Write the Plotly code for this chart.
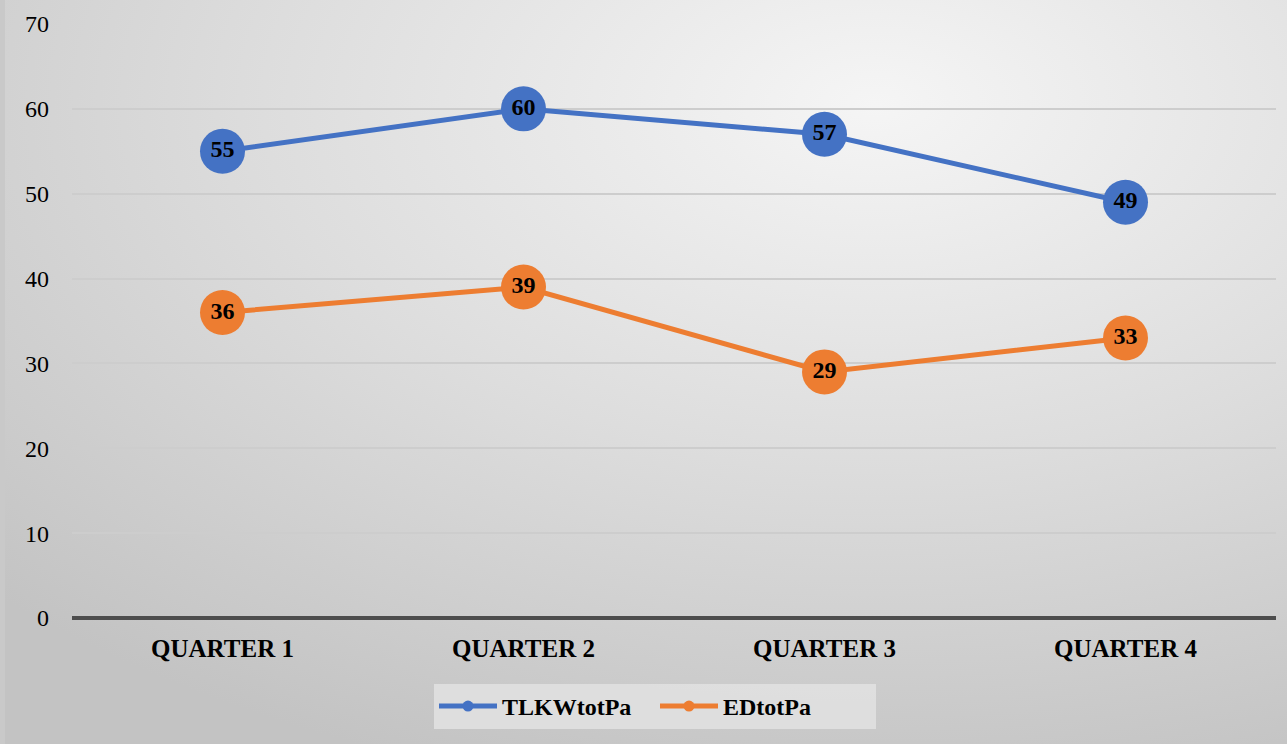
import base64
import plotly.graph_objects as go

quarters = ["QUARTER 1", "QUARTER 2", "QUARTER 3", "QUARTER 4"]
tlkw_tot_pa = [55, 60, 57, 49]
ed_tot_pa = [36, 39, 29, 33]
y_ticks = [0, 10, 20, 30, 40, 50, 60, 70]

BLUE = "#4472C4"
ORANGE = "#ED7D31"
FONT = "Liberation Serif"

W, H = 1287, 744
M_L, M_R, M_T, M_B = 72, 11, 24, 126
plot_w = W - M_L - M_R
plot_h = H - M_T - M_B

# radial grey gradient for the chart background
svg = (
    '<svg xmlns="http://www.w3.org/2000/svg" width="1287" height="744" '
    'preserveAspectRatio="none" viewBox="0 0 1287 744">'
    '<defs><radialGradient id="g" cx="0.68" cy="0.14" r="0.95" fx="0.68" fy="0.14">'
    '<stop offset="0" stop-color="#f5f5f5"/>'
    '<stop offset="0.5" stop-color="#dddddd"/>'
    '<stop offset="1" stop-color="#c3c3c3"/>'
    '</radialGradient></defs>'
    '<rect x="0" y="0" width="1287" height="744" fill="url(#g)"/>'
    '<rect x="0" y="0" width="5" height="744" fill="#c9c9c9"/>'
    '</svg>'
)
bg_uri = "data:image/svg+xml;base64," + base64.b64encode(svg.encode()).decode()

fig = go.Figure()

for name, vals, color in [("TLKWtotPa", tlkw_tot_pa, BLUE), ("EDtotPa", ed_tot_pa, ORANGE)]:
    fig.add_trace(go.Scatter(
        x=quarters, y=vals, name=name, mode="lines+markers+text",
        line=dict(color=color, width=5),
        marker=dict(color=color, size=45, line=dict(width=0)),
        text=[str(v) for v in vals], textposition="middle center",
        textfont=dict(family=FONT, size=24, color="#000000", weight="bold"),
        showlegend=False, cliponaxis=False,
    ))
    # legend entry with a small marker
    fig.add_trace(go.Scatter(
        x=[None], y=[None], name=name, mode="lines+markers",
        line=dict(color=color, width=5),
        marker=dict(color=color, size=11),
        showlegend=True,
    ))

fig.update_layout(
    width=W, height=H,
    margin=dict(l=M_L, r=M_R, t=M_T, b=M_B),
    paper_bgcolor="#d6d6d6",
    plot_bgcolor="rgba(0,0,0,0)",
    font=dict(family=FONT, color="#000000"),
    images=[dict(
        source=bg_uri, xref="paper", yref="paper",
        x=-M_L / plot_w, y=1 + M_T / plot_h,
        sizex=W / plot_w, sizey=H / plot_h,
        xanchor="left", yanchor="top", sizing="stretch", layer="below",
    )],
    xaxis=dict(
        type="category", showgrid=False, zeroline=False,
        showline=False, ticks="", ticklabelstandoff=13,
        tickfont=dict(family=FONT, size=25, color="#000000", weight="bold"),
        range=[-0.5, 3.5], fixedrange=True,
    ),
    yaxis=dict(
        range=[0, 70], tickvals=y_ticks,
        showgrid=True, gridcolor="#cdcdcd", gridwidth=2,
        zeroline=True, zerolinecolor="#4d4d4d", zerolinewidth=4,
        showline=False, ticks="", ticklabelstandoff=22,
        tickfont=dict(family=FONT, size=24, color="#000000"),
    ),
    legend=dict(
        orientation="h", xref="paper", yref="container",
        x=(655 - M_L) / plot_w, xanchor="center",
        y=1 - 684 / H, yanchor="top",
        bgcolor="rgba(226,226,226,0.85)",
        font=dict(family=FONT, size=24, color="#000000", weight="bold"),
        itemwidth=58, entrywidth=148, tracegroupgap=0,
        borderwidth=0,
    ),
)

fig.write_html("out.html")
